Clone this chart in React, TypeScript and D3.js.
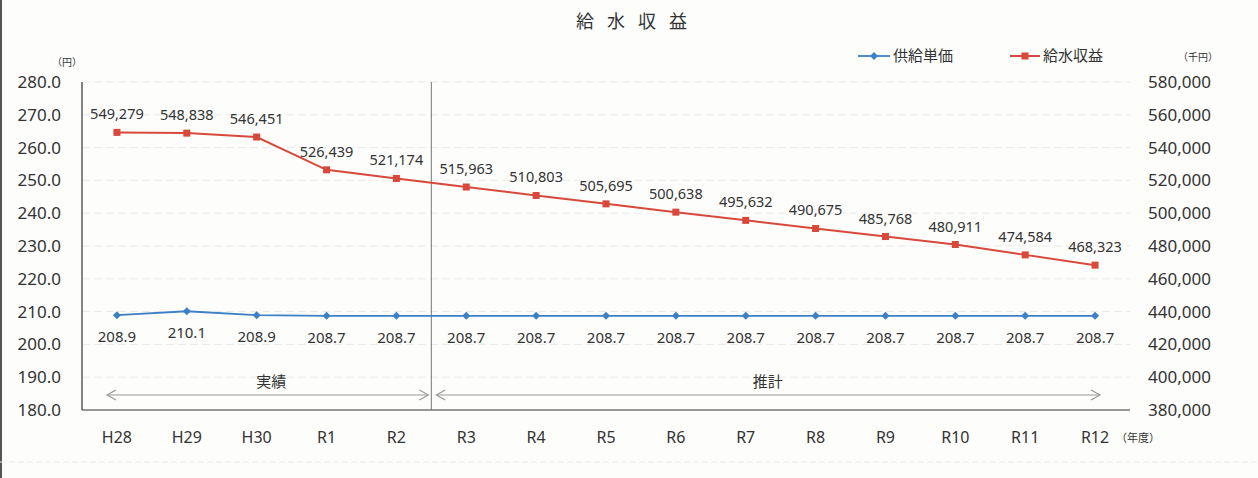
import React from "react";
import * as d3 from "d3";

const categories = ["H28","H29","H30","R1","R2","R3","R4","R5","R6","R7","R8","R9","R10","R11","R12"];
const unitPrice = [208.9,210.1,208.9,208.7,208.7,208.7,208.7,208.7,208.7,208.7,208.7,208.7,208.7,208.7,208.7];
const revenue = [549279,548838,546451,526439,521174,515963,510803,505695,500638,495632,490675,485768,480911,474584,468323];
const leftTicks = [180,190,200,210,220,230,240,250,260,270,280];
const rightTicks = [380000,400000,420000,440000,460000,480000,500000,520000,540000,560000,580000];

const W = 1258, H = 478;
const M = { left: 82, right: 1130, top: 82, bottom: 410 };
const FONT = "'Noto Sans', 'Noto Sans CJK JP', sans-serif";
const RED = "#d8483b";
const BLUE = "#3d80c6";

export default function App() {
  const x = d3.scaleBand<string>().domain(categories).range([M.left, M.right]);
  const cx = (c: string) => (x(c) as number) + x.bandwidth() / 2;
  const yL = d3.scaleLinear().domain([180, 280]).range([M.bottom, M.top]);
  const yR = d3.scaleLinear().domain([380000, 580000]).range([M.bottom, M.top]);
  const fmtL = d3.format(".1f");
  const fmtR = d3.format(",");
  const lineBlue = d3.line<number>().x((_, i) => cx(categories[i])).y(d => yL(d));
  const lineRed = d3.line<number>().x((_, i) => cx(categories[i])).y(d => yR(d));
  const divX = (x(categories[5]) as number);
  const arrowY = 395;

  const arrow = (x1: number, x2: number, key: string) => (
    <g key={key} stroke="#999" strokeWidth={1.2} fill="none">
      <line x1={x1} y1={arrowY} x2={x2} y2={arrowY} />
      <polyline points={`${x1 + 9},${arrowY - 5} ${x1},${arrowY} ${x1 + 9},${arrowY + 5}`} />
      <polyline points={`${x2 - 9},${arrowY - 5} ${x2},${arrowY} ${x2 - 9},${arrowY + 5}`} />
    </g>
  );

  return (
    <div style={{ position: "absolute", left: 0, top: 0 }}>
      <svg width={W} height={H} style={{ display: "block", background: "#fdfdfc" }} fontFamily={FONT}>
        <rect x={0} y={0} width={2} height={H} fill="#555" />
        <line x1={0} y1={462} x2={W} y2={462} stroke="#ececec" strokeWidth={1} strokeDasharray="6 3" />
        <text x={638} y={28} textAnchor="middle" fontSize={18} letterSpacing="13" fill="#333">給水収益</text>

        {/* gridlines */}
        {leftTicks.slice(1).map(t => (
          <line key={"g" + t} x1={M.left} x2={M.right} y1={yL(t)} y2={yL(t)} stroke="#ebebeb" strokeDasharray="8 4" />
        ))}

        {/* axes */}
        <line x1={M.left} x2={M.left} y1={M.top} y2={M.bottom} stroke="#333" strokeWidth={1.2} />
        <line x1={M.left} x2={M.right} y1={M.bottom} y2={M.bottom} stroke="#333" strokeWidth={1.2} />
        <line x1={divX} x2={divX} y1={M.top} y2={M.bottom} stroke="#777" strokeWidth={1} />

        {leftTicks.map(t => (
          <text key={"l" + t} x={61} y={yL(t)} dy="0.35em" textAnchor="end" fontSize={17} fill="#333">{fmtL(t)}</text>
        ))}
        {rightTicks.map(t => (
          <text key={"r" + t} x={1148} y={yR(t)} dy="0.35em" textAnchor="start" fontSize={17} fill="#333">{fmtR(t)}</text>
        ))}
        {categories.map(c => (
          <text key={"c" + c} x={cx(c)} y={437} dy="0.35em" textAnchor="middle" fontSize={16} fill="#333">{c}</text>
        ))}
        <text x={1116} y={438} dy="0.35em" fontSize={11} fill="#333">（年度）</text>
        <text x={52} y={66} fontSize={10} fill="#333">（円）</text>
        <text x={1178} y={61} fontSize={10} fill="#333">（千円）</text>

        {/* period arrows */}
        {arrow(107, divX - 3, "a1")}
        {arrow(divX + 5, 1100, "a2")}
        <text x={(107 + divX) / 2 + 2} y={382} dy="0.35em" textAnchor="middle" fontSize={15} fill="#333">実績</text>
        <text x={(divX + 1100) / 2 + 2} y={382} dy="0.35em" textAnchor="middle" fontSize={15} fill="#333">推計</text>

        {/* series */}
        <path d={lineRed(revenue) || ""} fill="none" stroke={RED} strokeWidth={2} />
        {revenue.map((v, i) => (
          <rect key={"rp" + i} x={cx(categories[i]) - 3.5} y={yR(v) - 3.5} width={7} height={7} fill={RED} />
        ))}
        {revenue.map((v, i) => (
          <text key={"rl" + i} x={cx(categories[i])} y={yR(v) - 13} textAnchor="middle" fontSize={14.5} fill="#333">{fmtR(v)}</text>
        ))}
        <path d={lineBlue(unitPrice) || ""} fill="none" stroke={BLUE} strokeWidth={1.8} />
        {unitPrice.map((v, i) => (
          <path key={"bp" + i} transform={`translate(${cx(categories[i])},${yL(v)})`} d="M0,-4L4,0L0,4L-4,0Z" fill={BLUE} />
        ))}
        {unitPrice.map((v, i) => (
          <text key={"bl" + i} x={cx(categories[i])} y={yL(v) + 27} textAnchor="middle" fontSize={15} fill="#333">{fmtL(v)}</text>
        ))}

        {/* legend */}
        <line x1={858} x2={890} y1={56} y2={56} stroke={BLUE} strokeWidth={1.8} />
        <path transform="translate(874,56)" d="M0,-4L4,0L0,4L-4,0Z" fill={BLUE} />
        <text x={893} y={56} dy="0.35em" fontSize={15} fill="#333">供給単価</text>
        <line x1={1010} x2={1040} y1={56} y2={56} stroke={RED} strokeWidth={2} />
        <rect x={1021.5} y={52.5} width={7} height={7} fill={RED} />
        <text x={1043} y={56} dy="0.35em" fontSize={15} fill="#333">給水収益</text>
      </svg>
    </div>
  );
}
